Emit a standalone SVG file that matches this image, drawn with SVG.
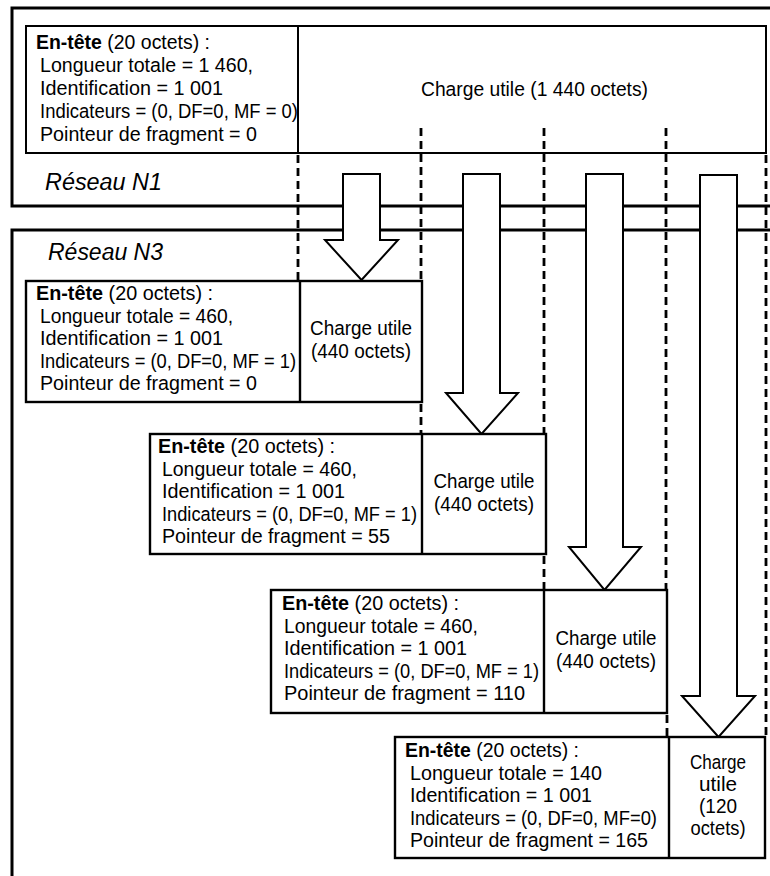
<svg xmlns="http://www.w3.org/2000/svg" width="770" height="876" viewBox="0 0 770 876">
<style>
  .frame { fill: none; stroke: #000; stroke-width: 3; }
  .box { fill: #fff; stroke: #000; stroke-width: 2.4; }
  .div { stroke: #000; stroke-width: 2.4; }
  .dash { stroke: #000; stroke-width: 2.8; stroke-dasharray: 8 5; fill: none; }
  .arrow { fill: #fff; stroke: #000; stroke-width: 2; stroke-linejoin: miter; }
  text { font-family: "Liberation Sans", Arial, sans-serif; font-size: 20.5px; fill: #000; }
  .b { font-weight: bold; }
  .net { font-style: italic; font-size: 23px; }
  .mid { text-anchor: middle; }
</style>
<rect width="770" height="876" fill="#fff"/>

<g id="reseau-n1">
  <path class="frame" d="M772,8 H12 V206 H772"/>
  <text class="net" x="45" y="190" textLength="117" lengthAdjust="spacingAndGlyphs">Réseau N1</text>
</g>
<g id="reseau-n3">
  <path class="frame" d="M772,230 H12 V880"/>
  <text class="net" x="48" y="260" textLength="115" lengthAdjust="spacingAndGlyphs">Réseau N3</text>
</g>

<g id="datagramme">
  <rect class="box" x="26" y="26" width="740" height="127" style="stroke-width:2"/>
  <line class="div" x1="298" y1="26" x2="298" y2="153" style="stroke-width:2"/>
  <text x="36" y="49" textLength="174" lengthAdjust="spacingAndGlyphs"><tspan class="b">En-tête</tspan> (20 octets) :</text>
  <text x="40" y="72" textLength="213" lengthAdjust="spacingAndGlyphs">Longueur totale = 1 460,</text>
  <text x="40" y="95" textLength="183" lengthAdjust="spacingAndGlyphs">Identification = 1 001</text>
  <text x="40" y="118" textLength="258" lengthAdjust="spacingAndGlyphs">Indicateurs = (0, DF=0, MF = 0)</text>
  <text x="40" y="141" textLength="217" lengthAdjust="spacingAndGlyphs">Pointeur de fragment = 0</text>
  <text x="421" y="96" textLength="227" lengthAdjust="spacingAndGlyphs">Charge utile (1 440 octets)</text>
</g>

<g id="connecteurs">
  <line class="dash" x1="298" y1="155" x2="298" y2="281"/>
  <line class="dash" x1="421" y1="128" x2="421" y2="281"/>
  <line class="dash" x1="421" y1="404" x2="421" y2="434"/>
  <line class="dash" x1="544" y1="128" x2="544" y2="434"/>
  <line class="dash" x1="544" y1="556" x2="544" y2="590"/>
  <line class="dash" x1="666" y1="128" x2="666" y2="590"/>
  <line class="dash" x1="667" y1="715" x2="667" y2="737"/>
  <line class="dash" x1="766" y1="155" x2="766" y2="737"/>
  <path class="arrow" d="M343,174 H380 V240 H398 L361.5,280 L325,240 H343 Z"/>
  <path class="arrow" d="M463,174 H500 V393 H518 L481.5,434 L446,393 H463 Z"/>
  <path class="arrow" d="M586,174 H623 V547 H641 L604.5,590 L569,547 H586 Z"/>
  <path class="arrow" d="M700,175 H737 V696 H755 L718.5,737 L682,696 H700 Z"/>
</g>

<g id="fragment-1">
  <rect class="box" x="26" y="281" width="396" height="121"/>
  <line class="div" x1="300" y1="281" x2="300" y2="402"/>
  <text x="36" y="300" textLength="177" lengthAdjust="spacingAndGlyphs"><tspan class="b">En-tête</tspan> (20 octets) :</text>
  <text x="40" y="322.5" textLength="193" lengthAdjust="spacingAndGlyphs">Longueur totale = 460,</text>
  <text x="40" y="345" textLength="183" lengthAdjust="spacingAndGlyphs">Identification = 1 001</text>
  <text x="40" y="367.5" textLength="256" lengthAdjust="spacingAndGlyphs">Indicateurs = (0, DF=0, MF = 1)</text>
  <text x="40" y="390" textLength="217" lengthAdjust="spacingAndGlyphs">Pointeur de fragment = 0</text>
  <text class="mid" x="361" y="335" textLength="102" lengthAdjust="spacingAndGlyphs">Charge utile</text>
  <text class="mid" x="361" y="358" textLength="100" lengthAdjust="spacingAndGlyphs">(440 octets)</text>
</g>

<g id="fragment-2">
  <rect class="box" x="150" y="434" width="396" height="120"/>
  <line class="div" x1="422" y1="434" x2="422" y2="554"/>
  <text x="158" y="453" textLength="177" lengthAdjust="spacingAndGlyphs"><tspan class="b">En-tête</tspan> (20 octets) :</text>
  <text x="162" y="475.5" textLength="195" lengthAdjust="spacingAndGlyphs">Longueur totale = 460,</text>
  <text x="162" y="498" textLength="183" lengthAdjust="spacingAndGlyphs">Identification = 1 001</text>
  <text x="162" y="520.5" textLength="255" lengthAdjust="spacingAndGlyphs">Indicateurs = (0, DF=0, MF = 1)</text>
  <text x="162" y="543" textLength="228" lengthAdjust="spacingAndGlyphs">Pointeur de fragment = 55</text>
  <text class="mid" x="484" y="488" textLength="101" lengthAdjust="spacingAndGlyphs">Charge utile</text>
  <text class="mid" x="484" y="511" textLength="100" lengthAdjust="spacingAndGlyphs">(440 octets)</text>
</g>

<g id="fragment-3">
  <rect class="box" x="271" y="590" width="396" height="123"/>
  <line class="div" x1="544" y1="590" x2="544" y2="713"/>
  <text x="282" y="610" textLength="177" lengthAdjust="spacingAndGlyphs"><tspan class="b">En-tête</tspan> (20 octets) :</text>
  <text x="284" y="632.5" textLength="194" lengthAdjust="spacingAndGlyphs">Longueur totale = 460,</text>
  <text x="284" y="655" textLength="183" lengthAdjust="spacingAndGlyphs">Identification = 1 001</text>
  <text x="284" y="677.5" textLength="255" lengthAdjust="spacingAndGlyphs">Indicateurs = (0, DF=0, MF = 1)</text>
  <text x="284" y="700" textLength="241" lengthAdjust="spacingAndGlyphs">Pointeur de fragment = 110</text>
  <text class="mid" x="606" y="645" textLength="101" lengthAdjust="spacingAndGlyphs">Charge utile</text>
  <text class="mid" x="606" y="668" textLength="100" lengthAdjust="spacingAndGlyphs">(440 octets)</text>
</g>

<g id="fragment-4">
  <rect class="box" x="395" y="737" width="370" height="121"/>
  <line class="div" x1="669" y1="737" x2="669" y2="858"/>
  <text x="405" y="757" textLength="174" lengthAdjust="spacingAndGlyphs"><tspan class="b">En-tête</tspan> (20 octets) :</text>
  <text x="410" y="779.5" textLength="192" lengthAdjust="spacingAndGlyphs">Longueur totale = 140</text>
  <text x="410" y="802" textLength="182" lengthAdjust="spacingAndGlyphs">Identification = 1 001</text>
  <text x="410" y="824.5" textLength="247" lengthAdjust="spacingAndGlyphs">Indicateurs = (0, DF=0, MF=0)</text>
  <text x="410" y="847" textLength="238" lengthAdjust="spacingAndGlyphs">Pointeur de fragment = 165</text>
  <text class="mid" x="718" y="769" textLength="56" lengthAdjust="spacingAndGlyphs">Charge</text>
  <text class="mid" x="718" y="791" textLength="38" lengthAdjust="spacingAndGlyphs">utile</text>
  <text class="mid" x="718" y="813" textLength="38" lengthAdjust="spacingAndGlyphs">(120</text>
  <text class="mid" x="718" y="835" textLength="55" lengthAdjust="spacingAndGlyphs">octets)</text>
</g>
</svg>
